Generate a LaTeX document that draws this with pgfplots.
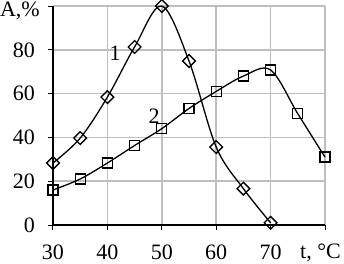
\documentclass[border=0pt]{standalone}
\usepackage{pgfplots}
\pgfplotsset{compat=1.18}
\usepackage{fontspec}
\setmainfont{Liberation Serif}
\begin{document}
\fontsize{22}{26}\selectfont
\begin{tikzpicture}
\begin{axis}[
  scale only axis,
  width=272pt, height=219pt,
  xmin=30, xmax=80, ymin=0, ymax=100,
  xtick={30,40,50,60,70,80},
  xticklabels={30,40,50,60,70,{}},
  ytick={0,20,40,60,80,100},
  yticklabels={0,20,40,60,80,{}},
  axis lines=left,
  axis line style={black, line width=1.5pt, -},
  tick align=outside,
  major tick length=5pt,
  tick style={black, line width=1pt},
  grid=major,
  major grid style={draw=black!25, line width=1.5pt},
  clip=false,
  /pgf/number format/assume math mode=true,
  ticklabel style={font=\fontsize{22}{26}\selectfont, inner sep=0pt},
  xticklabel style={anchor=center, yshift=-22.5pt},
  yticklabel style={anchor=east, xshift=-13pt},
]
\addplot[black, line width=1.3pt, smooth, tension=0.55, mark=square, mark size=4.5pt, mark options={rotate=45, fill=white, solid, line width=1.3pt}]
coordinates {(30,28.3) (35,39.7) (40,58.4) (45,81.3) (50,100) (55,74.9) (60,35.6) (65,16.6) (70,1)};
\addplot[black, line width=1.3pt, smooth, tension=0.55, mark=square, mark size=5pt, mark options={fill=white, solid, line width=1.3pt}]
coordinates {(30,16) (35,21) (40,28.3) (45,36.3) (50,44) (55,53.2) (60,61) (65,68) (70,70.8) (75,50.8) (80,31)};
\node at (axis cs:41.4,78.5) {1};
\node at (axis cs:48.6,49.5) {2};
\node[anchor=base east, inner sep=0pt] at (axis cs:30,100) [xshift=-13pt, yshift=-10pt] {A,\%};
\node[anchor=base, inner sep=0pt] at (axis cs:80,0) [xshift=-4.5pt, yshift=-33pt] {t, °C};
\coordinate (ll) at (rel axis cs:0,0);
\coordinate (ur) at (rel axis cs:1,1);
\end{axis}
\pgfresetboundingbox
\useasboundingbox ([xshift=-53pt,yshift=-38pt]ll) rectangle ([xshift=19pt,yshift=6pt]ur);
\end{tikzpicture}
\end{document}
